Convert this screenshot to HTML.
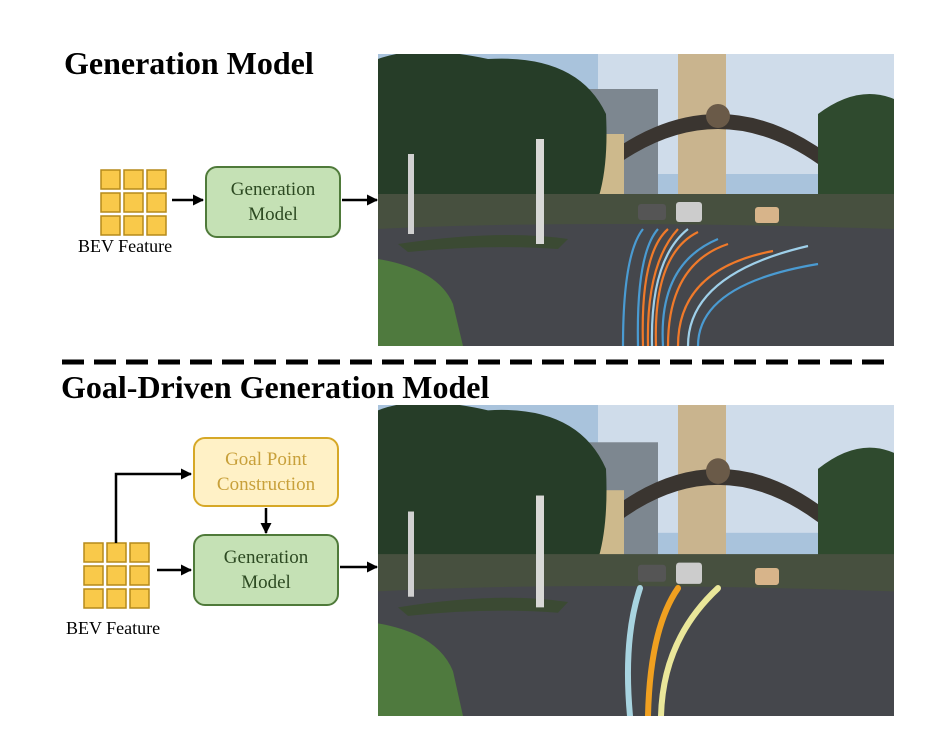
<!DOCTYPE html>
<html><head><style>
body{margin:0;background:#fff;width:942px;height:744px;position:relative;overflow:hidden;font-family:"Liberation Serif",serif}
.t{position:absolute;font-weight:bold;font-size:32px;color:#000;white-space:nowrap}
.box{position:absolute;border-radius:12px;display:flex;align-items:center;justify-content:center;text-align:center;font-size:19px;line-height:25px;box-sizing:border-box}
.g{background:#c5e1b5;border:2px solid #4f7a3a;color:#2d4a22}
.y{background:#fff1c6;border:2px solid #d6a827;color:#c8a03a}
.lbl{position:absolute;font-size:18px;color:#000}
svg{position:absolute;left:0;top:0}
</style></head><body>
<div class="t" style="left:64px;top:45px">Generation Model</div>
<div class="t" style="left:61px;top:369px">Goal-Driven Generation Model</div>
<div class="box g" style="left:205px;top:166px;width:136px;height:72px">Generation<br>Model</div>
<div class="box y" style="left:193px;top:437px;width:146px;height:70px">Goal Point<br>Construction</div>
<div class="box g" style="left:193px;top:534px;width:146px;height:72px">Generation<br>Model</div>
<div class="lbl" style="left:78px;top:236px">BEV Feature</div>
<div class="lbl" style="left:66px;top:618px">BEV Feature</div>
<svg width="942" height="744">
<defs>
<marker id="a" markerWidth="11" markerHeight="11" refX="10" refY="5.5" orient="auto" markerUnits="userSpaceOnUse"><path d="M0,0L11,5.5L0,11z" fill="#000"/></marker>
<g id="grid">
<rect x="0" y="0" width="19" height="19"/><rect x="23" y="0" width="19" height="19"/><rect x="46" y="0" width="19" height="19"/>
<rect x="0" y="23" width="19" height="19"/><rect x="23" y="23" width="19" height="19"/><rect x="46" y="23" width="19" height="19"/>
<rect x="0" y="46" width="19" height="19"/><rect x="23" y="46" width="19" height="19"/><rect x="46" y="46" width="19" height="19"/>
</g>
<g id="scene">
<rect width="516" height="292" fill="#a9c3dc"/>
<rect x="220" y="0" width="296" height="120" fill="#cfdcea"/>
<rect x="300" y="0" width="48" height="150" fill="#c9b48e"/>
<rect x="190" y="35" width="90" height="110" fill="#7d8790"/>
<path d="M230,100 Q340,20 450,100 L440,110 Q340,40 240,110z" fill="#3a3530"/>
<circle cx="340" cy="62" r="12" fill="#6a5a48"/>
<rect x="210" y="80" width="36" height="80" fill="#cdb98c"/>
<rect x="445" y="120" width="30" height="50" fill="#cdb98c"/>
<path d="M0,5 Q40,-10 110,5 Q200,0 228,60 Q232,140 205,175 L0,180z" fill="#263d28"/>
<path d="M440,60 Q480,30 516,45 L516,190 L440,170z" fill="#2f4a2e"/>
<rect x="0" y="140" width="516" height="40" fill="#47503f"/>
<path d="M0,175 Q200,165 516,175 L516,292 L0,292z" fill="#45474c"/>
<path d="M0,205 Q60,215 75,250 L85,292 L0,292z" fill="#4f7a3e"/>
<path d="M20,190 Q120,175 190,185 L180,195 Q110,190 30,198z" fill="#3b4a33"/>
<rect x="158" y="85" width="8" height="105" fill="#d8d8d6"/>
<rect x="30" y="100" width="6" height="80" fill="#d0d0d0"/>
<rect x="260" y="150" width="28" height="16" fill="#555" rx="3"/>
<rect x="298" y="148" width="26" height="20" fill="#ccc" rx="3"/>
<rect x="377" y="153" width="24" height="16" fill="#d7b48a" rx="3"/>
</g>
</defs>
<g fill="#f9c94a" stroke="#b58a1a" stroke-width="1.5">
<use href="#grid" x="101" y="170"/>
<use href="#grid" x="84" y="543"/>
</g>
<g stroke="#000" stroke-width="2.5" fill="none" marker-end="url(#a)">
<line x1="172" y1="200" x2="203" y2="200"/>
<line x1="342" y1="200" x2="377" y2="200"/>
<polyline points="116,543 116,474 191,474"/>
<line x1="266" y1="508" x2="266" y2="533"/>
<line x1="157" y1="570" x2="191" y2="570"/>
<line x1="340" y1="567" x2="377" y2="567"/>
</g>
<line x1="62" y1="362" x2="886" y2="362" stroke="#000" stroke-width="5" stroke-dasharray="22,10"/>
<svg x="378" y="54" width="516" height="292" viewBox="0 0 516 292" preserveAspectRatio="none">
<use href="#scene"/>
<g fill="none" stroke-width="2.2">
<path d="M245,292 Q245,200 265,175" stroke="#4a9bd2"/>
<path d="M265,292 Q262,200 290,175" stroke="#f07a2a"/>
<path d="M270,292 Q268,210 300,175" stroke="#f07a2a"/>
<path d="M274,292 Q272,205 310,175" stroke="#9fd0ea"/>
<path d="M278,292 Q275,200 320,178" stroke="#f07a2a"/>
<path d="M285,292 Q280,210 340,185" stroke="#4a9bd2"/>
<path d="M290,292 Q290,210 350,190" stroke="#f07a2a"/>
<path d="M300,292 Q300,215 395,197" stroke="#f07a2a"/>
<path d="M310,292 Q310,220 430,192" stroke="#9fd0ea"/>
<path d="M320,292 Q320,230 440,210" stroke="#4a9bd2"/>
<path d="M260,292 Q258,200 280,175" stroke="#4a9bd2"/>
</g>
</svg>
<svg x="378" y="405" width="516" height="311" viewBox="0 0 516 292" preserveAspectRatio="none">
<use href="#scene"/>
<g fill="none" stroke-linecap="round">
<path d="M252,292 Q245,220 262,172" stroke="#a8d4e0" stroke-width="6"/>
<path d="M270,292 Q272,210 300,172" stroke="#f0a020" stroke-width="6"/>
<path d="M283,292 Q285,220 340,172" stroke="#eae79a" stroke-width="6"/>
</g>
</svg>
</svg>
</body></html>
